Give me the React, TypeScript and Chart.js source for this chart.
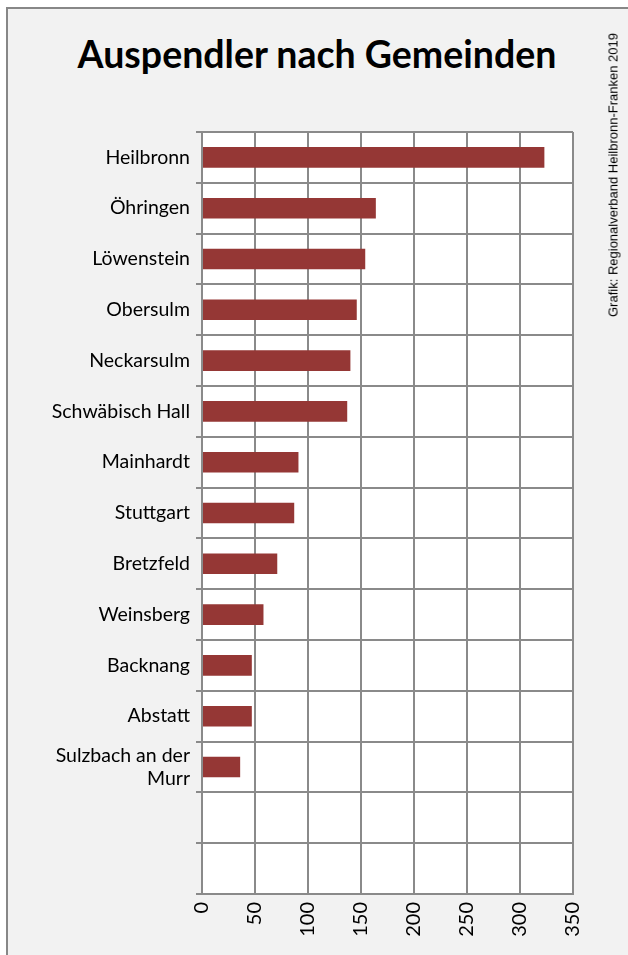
import React, { useEffect, useRef } from "react";
import { Chart, registerables } from "chart.js";

Chart.register(...registerables);

const categories: (string | string[])[] = [
  "Heilbronn",
  "Öhringen",
  "Löwenstein",
  "Obersulm",
  "Neckarsulm",
  "Schwäbisch Hall",
  "Mainhardt",
  "Stuttgart",
  "Bretzfeld",
  "Weinsberg",
  "Backnang",
  "Abstatt",
  ["Sulzbach an der", "Murr"],
  "",
  "",
];
const values: (number | null)[] = [323, 164, 154, 146, 140, 137, 91, 87, 71, 58, 47, 47, 36, null, null];
const xMin = 0;
const xMax = 350;
const xStep = 50;

const titleText = "Auspendler nach Gemeinden";
const sourceText = "Grafik: Regionalverband Heilbronn-Franken 2019";

const GRID = "#8a8a8a";
const BAR = "#953735";
const FONT = "Lato, 'Open Sans', sans-serif";

export default function App() {
  const ref = useRef<HTMLCanvasElement | null>(null);

  useEffect(() => {
    if (!ref.current) return;
    const plotBg = {
      id: "plotBg",
      beforeDraw(chart: any) {
        const { ctx, chartArea } = chart;
        ctx.save();
        ctx.fillStyle = "#ffffff";
        ctx.fillRect(chartArea.left, chartArea.top, chartArea.right - chartArea.left, chartArea.bottom - chartArea.top);
        ctx.restore();
      },
    };
    const chart = new Chart(ref.current, {
      type: "bar",
      data: {
        labels: categories as any,
        datasets: [
          {
            data: values as any,
            backgroundColor: BAR,
            borderWidth: 0,
            barPercentage: 0.405,
            categoryPercentage: 1,
          },
        ],
      },
      options: {
        indexAxis: "y",
        responsive: false,
        animation: false,
        devicePixelRatio: 1,
        layout: { padding: { left: 0, top: 132, right: 55, bottom: 0 } },
        plugins: {
          legend: { display: false },
          title: { display: false },
          tooltip: { enabled: false },
        },
        scales: {
          x: {
            type: "linear",
            min: xMin,
            max: xMax,
            ticks: {
              stepSize: xStep,
              minRotation: 90,
              maxRotation: 90,
              padding: 8,
              color: "#000",
              font: { family: FONT, size: 20 },
            },
            grid: { color: GRID, lineWidth: 2, drawTicks: false },
            border: { color: GRID, width: 2 },
            afterFit(scale: any) {
              scale.height = 61;
            },
          },
          y: {
            type: "category",
            ticks: {
              padding: 6,
              color: "#000",
              font: { family: FONT, size: 19.5 },
              autoSkip: false,
            },
            grid: { color: GRID, lineWidth: 2, tickLength: 6, offset: true },
            border: { color: GRID, width: 2 },
            afterFit(scale: any) {
              scale.width = 202;
            },
          },
        },
      },
      plugins: [plotBg],
    });
    return () => chart.destroy();
  }, []);

  return (
    <div style={{ position: "fixed", left: 0, top: 0, width: 628, height: 955, background: "#fff", overflow: "hidden" }}>
      <div
        style={{
          position: "absolute",
          left: 6,
          top: 7,
          right: 0,
          bottom: 0,
          background: "#f2f2f2",
          borderLeft: "2px solid #878787",
          borderTop: "2px solid #878787",
        }}
      />
      <div
        style={{
          position: "absolute",
          left: 6,
          right: 0,
          top: 31,
          textAlign: "center",
          fontFamily: FONT,
          fontWeight: 700,
          fontSize: 37.5,
          lineHeight: "46px",
          color: "#000",
          whiteSpace: "nowrap",
        }}
      >
        {titleText}
      </div>
      <canvas ref={ref} width={628} height={955} style={{ position: "absolute", left: 0, top: 0, width: 628, height: 955 }} />
      <div
        style={{
          position: "absolute",
          left: 613,
          top: 175,
          transform: "translate(-50%, -50%) rotate(-90deg)",
          fontFamily: "'Liberation Sans', Arial, sans-serif",
          fontSize: 13,
          color: "#000",
          whiteSpace: "nowrap",
        }}
      >
        {sourceText}
      </div>
    </div>
  );
}
